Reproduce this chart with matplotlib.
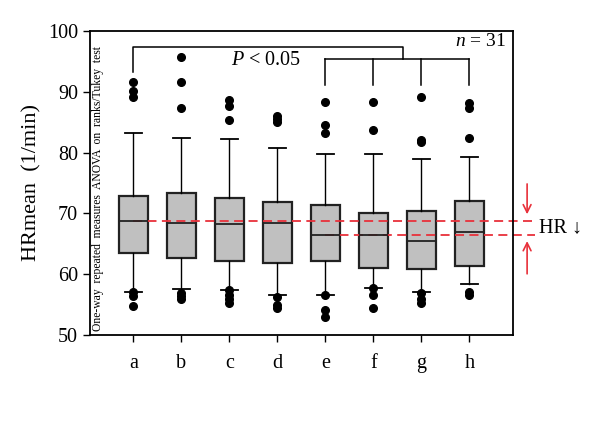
import matplotlib
matplotlib.use("Agg")
import matplotlib.pyplot as plt

plt.rcParams['font.family'] = ['Liberation Serif', 'DejaVu Serif']
plt.rcParams['mathtext.fontset'] = 'custom'
plt.rcParams['mathtext.rm'] = 'Liberation Serif'
plt.rcParams['mathtext.it'] = 'Liberation Serif:italic'

# box statistics
groups = ["a", "b", "c", "d", "e", "f", "g", "h"]
q1 = [63.5, 62.6, 62.1, 61.9, 62.2, 61.0, 60.9, 61.3]
med = [68.8, 68.4, 68.2, 68.4, 66.5, 66.5, 65.5, 66.9]
q3 = [72.8, 73.4, 72.5, 71.8, 71.4, 70.0, 70.4, 72.1]
whis_lo = [57.0, 57.5, 57.4, 56.5, 56.6, 57.8, 57.0, 58.4]
whis_hi = [83.3, 82.4, 82.2, 80.7, 79.8, 79.8, 78.9, 79.2]
fliers = [
    [91.6, 90.2, 89.1, 57.0, 56.4, 54.7],
    [95.8, 91.6, 87.3, 56.9, 56.4, 56.0],
    [88.6, 87.6, 85.3, 57.4, 56.6, 56.0, 55.3],
    [86.0, 85.5, 85.1, 56.3, 54.9, 54.5],
    [88.4, 84.6, 83.3, 56.6, 54.1, 52.9],
    [88.4, 83.7, 57.7, 56.6, 54.4],
    [89.1, 82.0, 81.7, 56.9, 56.0, 55.3],
    [88.1, 87.4, 82.4, 57.1, 56.6],
]

pos = list(range(1, len(groups) + 1))
stats = []
for i in range(len(groups)):
    stats.append({"med": med[i], "q1": q1[i], "q3": q3[i],
                  "whislo": whis_lo[i], "whishi": whis_hi[i],
                  "fliers": fliers[i], "label": groups[i]})

fig = plt.figure(figsize=(6, 4.41), dpi=100)
ax = fig.add_axes([0.15, 0.2404, 0.7045, 0.6893])

ax.bxp(stats, positions=pos, widths=0.6, patch_artist=True,
       boxprops=dict(facecolor="#c0c0c0", edgecolor="#222222", linewidth=1.6),
       medianprops=dict(color="#222222", linewidth=1.3),
       whiskerprops=dict(color="black", linewidth=1.0),
       capprops=dict(color="black", linewidth=1.3),
       capwidths=0.36,
       flierprops=dict(marker="o", markerfacecolor="black", markeredgecolor="black",
                       markersize=5.5))

ax.set_xlim(0.1, 8.9)
ax.set_ylim(50, 100)
ax.set_yticks([50, 60, 70, 80, 90, 100])
ax.set_xticks(pos)
ax.set_xticklabels(groups)
ax.tick_params(axis="both", direction="out", labelsize=14.5, length=5, width=1)
ax.tick_params(axis="x", pad=9)
for s in ax.spines.values():
    s.set_linewidth(1.3)
ax.set_ylabel("HRmean  (1/min)", fontsize=16, labelpad=5)

# significance brackets
top_y, low_y = 97.4, 95.35
join_x = 6.61
ax.plot([pos[0], pos[0], join_x, join_x], [93.3, top_y, top_y, low_y], color="black", lw=1.1)
ax.plot([pos[4], pos[7]], [low_y, low_y], color="black", lw=1.1)
for p in pos[4:]:
    ax.plot([p, p], [low_y, 91.1], color="black", lw=1.1)
ax.text(3.77, 95.2, r"$P$ < 0.05", fontsize=14.5, ha="center", va="center")
ax.text(0.985, 0.965, r"$n$ = 31", fontsize=14, ha="right", va="center",
        transform=ax.transAxes)

ax.text(0.02, 0.012, "One-way  repeated  measures  ANOVA  on  ranks/Tukey  test",
        rotation=90, fontsize=8.4, ha="center", va="bottom", transform=ax.transAxes)

# reference lines and HR arrows
red = "#e8303a"
ax.plot([pos[0], 9.3], [med[0], med[0]], color=red, ls=(0, (5, 3)), lw=1.3, clip_on=False)
ax.plot([pos[4], 9.37], [med[4], med[4]], color=red, ls=(0, (5, 3)), lw=1.3, clip_on=False)
ax.annotate("", xy=(9.2, 69.4), xytext=(9.2, 75.3), annotation_clip=False,
            arrowprops=dict(arrowstyle="->", color=red, lw=1.2, mutation_scale=14))
ax.annotate("", xy=(9.2, 65.9), xytext=(9.2, 59.6), annotation_clip=False,
            arrowprops=dict(arrowstyle="->", color=red, lw=1.2, mutation_scale=14))
ax.text(9.44, 67.7, "HR \u2193", fontsize=14.5, ha="left", va="center")

plt.savefig("out.png", dpi=100)
